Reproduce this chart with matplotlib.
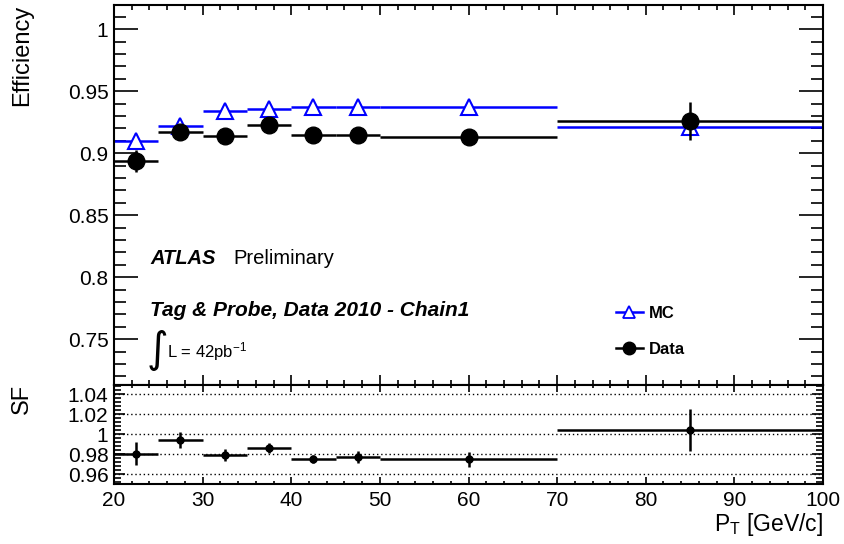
import numpy as np
import matplotlib
matplotlib.use("Agg")
import matplotlib.pyplot as plt
from matplotlib.lines import Line2D
from matplotlib.ticker import MultipleLocator, FuncFormatter

plt.rcParams['font.family'] = ['Liberation Sans', 'DejaVu Sans']
plt.rcParams['mathtext.fontset'] = 'custom'
plt.rcParams['mathtext.rm'] = 'Liberation Sans'
plt.rcParams['mathtext.it'] = 'Liberation Sans:italic'
plt.rcParams['mathtext.bf'] = 'Liberation Sans:bold'

# pT bins [GeV/c]
bin_edges = np.array([20, 25, 30, 35, 40, 45, 50, 70, 100])

# efficiencies
eff_mc = [0.910, 0.922, 0.934, 0.936, 0.937, 0.937, 0.937, 0.921]
eff_data = [0.8935, 0.917, 0.914, 0.9226, 0.9145, 0.915, 0.913, 0.926]
eff_data_err = [0.009, 0.003, 0.003, 0.003, 0.003, 0.003, 0.003, 0.0155]

# scale factor data/MC
sf = [0.9807, 0.9947, 0.979, 0.986, 0.9757, 0.9774, 0.975, 1.0047]
sf_err = [0.0117, 0.008, 0.006, 0.005, 0.004, 0.006, 0.0075, 0.021]

x = (bin_edges[:-1] + bin_edges[1:]) / 2
xerr = (bin_edges[1:] - bin_edges[:-1]) / 2

fig = plt.figure(figsize=(8.45, 5.44), dpi=100)
ax = fig.add_axes([0.1349, 0.2923, 0.8391, 0.6985])
ax2 = fig.add_axes([0.1349, 0.1103, 0.8391, 0.182])

# top panel
ax.errorbar(x, eff_mc, xerr=xerr, fmt='^', color='#0000ff', mfc='white', mec='#0000ff',
            mew=1.5, ms=12, lw=1.8, capsize=0, zorder=2)
ax.errorbar(x, eff_data, xerr=xerr, yerr=eff_data_err, fmt='o', color='black',
            ms=12, lw=1.8, capsize=0, zorder=3)

ax.set_xlim(20, 100)
ax.set_ylim(0.713, 1.0195)
ax.xaxis.set_major_locator(MultipleLocator(10))
ax.xaxis.set_minor_locator(MultipleLocator(2))
ax.yaxis.set_major_locator(MultipleLocator(0.05))
ax.yaxis.set_minor_locator(MultipleLocator(0.01))
ax.yaxis.set_major_formatter(FuncFormatter(lambda v, p: '%g' % round(v, 3)))
ax.tick_params(axis='x', which='both', direction='in', top=True, bottom=True, labelbottom=False)
ax.tick_params(axis='x', which='major', length=7, width=1.2)
ax.tick_params(axis='x', which='minor', length=3.5, width=1.2)
ax.tick_params(axis='y', which='both', direction='in', left=True, right=True, labelsize=15, pad=4)
ax.tick_params(axis='y', which='major', length=17, width=1.2)
ax.tick_params(axis='y', which='minor', length=8.5, width=1.2)
for s in ax.spines.values():
    s.set_linewidth(1.5)

ax.text(0.051, 0.334, 'ATLAS', transform=ax.transAxes, fontsize=14.5,
        fontweight='bold', fontstyle='italic', va='center', ha='left')
ax.text(0.169, 0.334, 'Preliminary', transform=ax.transAxes, fontsize=14.5,
        va='center', ha='left')
ax.text(0.051, 0.197, 'Tag & Probe, Data 2010 - Chain1', transform=ax.transAxes,
        fontsize=15, fontweight='bold', fontstyle='italic', va='center', ha='left')
ax.text(0.046, 0.092, '\u222b', transform=ax.transAxes, fontsize=30,
        va='center', ha='left', family=['DejaVu Sans'])
ax.text(0.075, 0.087, r'L = 42pb$^{-1}$', transform=ax.transAxes, fontsize=12,
        va='center', ha='left')

handles = [
    Line2D([], [], color='#0000ff', marker='^', mfc='white', mec='#0000ff', mew=1.3, ms=9, lw=1.8),
    Line2D([], [], color='black', marker='o', ms=9, lw=1.8),
]
leg = ax.legend(handles, ['MC', 'Data'], loc='upper left', bbox_to_anchor=(0.708, 0.209),
                frameon=False, prop={'weight': 'bold', 'size': 12}, handlelength=1.6,
                handletextpad=0.4, labelspacing=1.3, borderpad=0, borderaxespad=0)

# bottom panel
for lvl in [0.96, 0.98, 1.0, 1.02, 1.04]:
    ax2.axhline(lvl, color='black', ls=(0, (1, 2)), lw=1, zorder=1)
ax2.errorbar(x, sf, xerr=xerr, yerr=sf_err, fmt='o', color='black', ms=5,
             lw=1.8, capsize=0, zorder=3)
ax2.set_xlim(20, 100)
ax2.set_ylim(0.9505, 1.0495)
ax2.xaxis.set_major_locator(MultipleLocator(10))
ax2.xaxis.set_minor_locator(MultipleLocator(2))
ax2.yaxis.set_major_locator(MultipleLocator(0.02))
ax2.yaxis.set_minor_locator(MultipleLocator(0.004))
ax2.yaxis.set_major_formatter(FuncFormatter(lambda v, p: '%g' % round(v, 3)))
ax2.tick_params(axis='x', which='both', direction='in', top=True, bottom=True, labelsize=15, pad=5)
ax2.tick_params(axis='x', which='major', length=5, width=1.2)
ax2.tick_params(axis='x', which='minor', length=2.5, width=1.2)
ax2.tick_params(axis='y', which='both', direction='in', left=True, right=True, labelsize=15, pad=4)
ax2.tick_params(axis='y', which='major', length=8, width=1.2)
ax2.tick_params(axis='y', which='minor', length=5, width=1.2)
for s in ax2.spines.values():
    s.set_linewidth(1.5)

fig.text(22 / 845, 1 - 5 / 544, 'Efficiency', rotation=90, ha='center', va='top', fontsize=17)
fig.text(22 / 845, 1 - 384 / 544, 'SF', rotation=90, ha='center', va='top', fontsize=17)
fig.text(823 / 845, 1 - 525 / 544, r'$\mathregular{P_{T}}$ [GeV/c]', ha='right',
         va='center', fontsize=16.5)

fig.savefig('out.png', dpi=100)
